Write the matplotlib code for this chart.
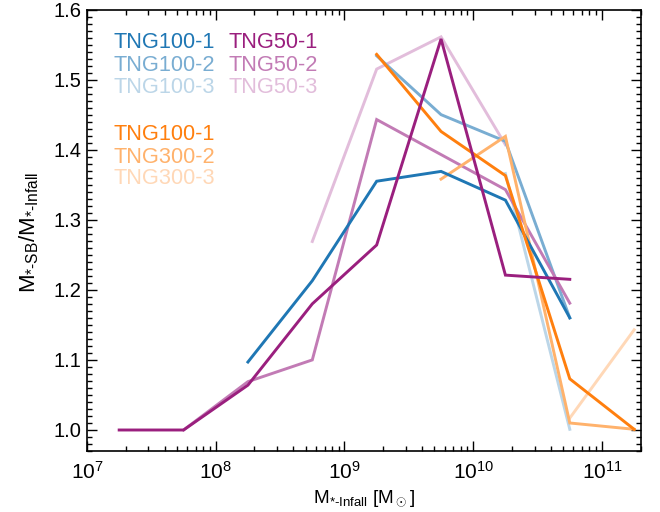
import numpy as np
import matplotlib
matplotlib.use("Agg")
import matplotlib.pyplot as plt
from matplotlib.ticker import LogLocator, MultipleLocator

plt.rcParams['font.family'] = ['Liberation Sans', 'DejaVu Sans']
plt.rcParams['mathtext.fontset'] = 'custom'
plt.rcParams['mathtext.rm'] = 'Liberation Sans'
plt.rcParams['mathtext.it'] = 'Liberation Sans:italic'
plt.rcParams['mathtext.bf'] = 'Liberation Sans:bold'

# log10 stellar mass bin centres
logm = [7.25, 7.75, 8.25, 8.75, 9.25, 9.75, 10.25, 10.75, 11.25]

tng100_1 = [None, None, 1.097, 1.213, 1.355, 1.369, 1.328, 1.160, None]
tng100_2 = [None, None, None, None, 1.534, 1.450, 1.412, 1.160, None]
tng100_3 = [None, None, None, None, None, None, 1.366, 1.001, None]
tng50_1 = [1.000, 1.000, 1.064, 1.180, 1.264, 1.558, 1.221, 1.215, None]
tng50_2 = [None, 1.000, 1.069, 1.100, 1.443, 1.393, 1.343, 1.181, None]
tng50_3 = [None, None, None, 1.269, 1.515, 1.561, 1.407, None, None]
tng300_1 = [None, None, None, None, 1.536, 1.426, 1.363, 1.073, 1.001]
tng300_2 = [None, None, None, None, None, 1.358, 1.419, 1.010, 1.001]
tng300_3 = [None, None, None, None, None, None, None, 1.017, 1.143]

series = [
    ("TNG100-1", tng100_1, "#1f77b4"),
    ("TNG100-2", tng100_2, "#79add2"),
    ("TNG100-3", tng100_3, "#bcd6e8"),
    ("TNG50-1", tng50_1, "#9a1f7e"),
    ("TNG50-2", tng50_2, "#c27bb5"),
    ("TNG50-3", tng50_3, "#e2bddb"),
    ("TNG100-1", tng300_1, "#ff7f0e"),
    ("TNG300-2", tng300_2, "#ffb26c"),
    ("TNG300-3", tng300_3, "#ffd8b7"),
]

fig = plt.figure(figsize=(6.6, 5.12), dpi=100)
ax = fig.add_axes([0.1318, 0.1191, 0.8390, 0.8623])

x = 10 ** np.array(logm)
# draw in order: lightest first, then darker
order = [2, 5, 8, 1, 4, 7, 0, 6, 3]
for i in order:
    name, vals, col = series[i]
    y = np.array([np.nan if v is None else v for v in vals], dtype=float)
    ax.plot(x, y, color=col, lw=2.1, solid_joinstyle='miter')

ax.set_xscale('log')
ax.set_xlim(1e7, 2e11)
ax.set_ylim(0.97, 1.6)
ax.xaxis.set_major_locator(LogLocator(base=10, numticks=20))
ax.xaxis.set_minor_locator(LogLocator(base=10, subs=np.arange(2, 10), numticks=20))
ax.yaxis.set_major_locator(MultipleLocator(0.1))
ax.yaxis.set_minor_locator(MultipleLocator(0.01))
ax.yaxis.set_major_formatter(matplotlib.ticker.FormatStrFormatter('%.1f'))

ax.tick_params(which='both', direction='in', top=True, right=True, width=1.0)
ax.tick_params(which='major', length=7.0)
ax.tick_params(which='minor', length=3.7)
ax.tick_params(axis='x', which='major', labelsize=15, pad=7)
ax.tick_params(axis='y', which='major', labelsize=14.5, pad=4)
for s in ax.spines.values():
    s.set_linewidth(1.2)

ax.set_xlabel(r'M$_{*\mathrm{\text{-}Infall}}$ [M$_\odot$]', fontsize=13.7)
ax.xaxis.set_label_coords(0.5, -0.085, transform=ax.transAxes)
ax.xaxis.label.set_va('top')
ax.set_ylabel(r'M$_{*\mathrm{\text{-}SB}}$/M$_{*\mathrm{\text{-}Infall}}$', fontsize=16)
ax.yaxis.set_label_coords(-0.083, 0.495, transform=ax.transAxes)

# colored text legend
col1_x, col2_x = 0.047, 0.2547
ys = [0.9128, 0.8607, 0.8102]
ys2 = [0.7044, 0.653, 0.604]
for k in range(3):
    n, _, c = series[k]
    ax.text(col1_x, ys[k], n, color=c, fontsize=15.7, transform=ax.transAxes, va='baseline')
    n, _, c = series[3 + k]
    ax.text(col2_x, ys[k], n, color=c, fontsize=15.7, transform=ax.transAxes, va='baseline')
    n, _, c = series[6 + k]
    ax.text(col1_x, ys2[k], n, color=c, fontsize=15.7, transform=ax.transAxes, va='baseline')

fig.savefig('out.png', dpi=100)
